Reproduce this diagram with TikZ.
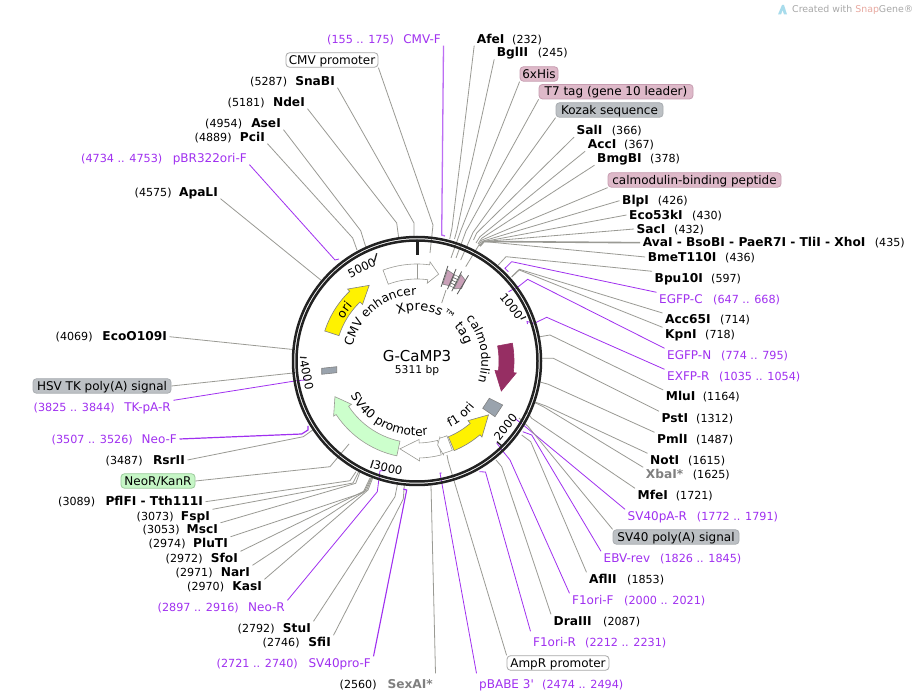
\documentclass[tikz,border=0pt]{standalone}
\usepackage{fontspec}
\setmainfont{DejaVu Sans}[Ligatures=TeXOff]
\usetikzlibrary{decorations.text}
\definecolor{primerc}{HTML}{A030F0}
\definecolor{sitec}{HTML}{9A9A94}
\definecolor{ghost}{HTML}{808080}
\definecolor{ringc}{HTML}{222222}
\definecolor{calm}{HTML}{962E63}
\definecolor{svgreen}{HTML}{CCFFCC}
\definecolor{boxgray}{HTML}{9AA3AD}
\definecolor{logoc}{HTML}{A8DCEC}
\definecolor{credit}{HTML}{A8A8A8}
\definecolor{snapc}{HTML}{E8A9A0}
\definecolor{tagpink}{HTML}{C9A0B8}
\tikzset{
  lbl/.style={inner xsep=2.5pt,inner ysep=1pt,text height=9.7pt,text depth=1.3pt},
  sname/.style={lbl,font=\fontsize{12.2}{13}\selectfont\bfseries},
  spos/.style={lbl,font=\fontsize{11.1}{13}\selectfont},
  pname/.style={lbl,text=primerc,font=\fontsize{12}{13}\selectfont},
  ppos/.style={lbl,text=primerc,font=\fontsize{11.2}{13}\selectfont},
  fbox/.style={rounded corners=3.5pt,line width=.8pt,inner sep=0pt,minimum height=14.5pt,font=\fontsize{12}{13}\selectfont,text height=9.7pt,text depth=1.3pt},
  pinkb/.style={fbox,fill=pinkf,draw=pinkd},
  grayb/.style={fbox,fill=grayf,draw=grayd},
  whiteb/.style={fbox,fill=white,draw=whited},
  greenb/.style={fbox,fill=greenf,draw=greend},
  site/.style={draw=sitec,line width=.8pt},
  primer/.style={draw=primerc,line width=.8pt},
  tickm/.style={draw=ringc,line width=1.3pt},
  numl/.style={font=\fontsize{11.5}{13}\selectfont,inner sep=0pt},
  arc text/.style={decorate,decoration={text along path,text align=center,text={|\fontsize{12.2}{13}\selectfont|#1}}},
  arc text big/.style={decorate,decoration={text along path,text align=center,text={|\fontsize{13}{14}\selectfont|#1}}},
  fedge/.style={draw=#1,line width=.6pt}
}
\definecolor{pinkf}{HTML}{DEB9C9}\definecolor{pinkd}{HTML}{C79DB1}
\definecolor{grayf}{HTML}{BCC0C4}\definecolor{grayd}{HTML}{A8ACB0}
\definecolor{whited}{HTML}{A8A8A8}
\definecolor{greenf}{HTML}{C6F6C6}\definecolor{greend}{HTML}{9CCB9C}
% right-hand labels: id, name, pos, nameX, posX, y, optional colour
\newcommand\rsite[7][black]{\node[sname,anchor=west,text=#1] (#2) at ({#5-2.5},#7) {#3};\node[spos,anchor=west] (#2-pos) at ({#6-2.5},#7) {(#4)};}
\newcommand\lsite[7][black]{\node[sname,anchor=east,text=#1] (#2) at ({#5+2.5},#7) {#3};\node[spos,anchor=west] (#2-pos) at ({#6-2.5},#7) {(#4)};}
\newcommand\rprim[6]{\node[pname,anchor=west] (#1) at ({#4-2.5},#6) {#2};\node[ppos,anchor=west] (#1-pos) at ({#5-2.5},#6) {(#3)};}
\newcommand\lprim[6]{\node[pname,anchor=east] (#1) at ({#4+2.5},#6) {#2};\node[ppos,anchor=west] (#1-pos) at ({#5-2.5},#6) {(#3)};}
\newcommand\feat[6]{\node[#2,minimum width={(#4-(#3))*1pt}] (#1) at ({(#3+#4)/2},#5) {#6};}
% connector: id, style, start and elbows, free end
\newcommand\conn[4]{\coordinate (#1-end) at #4;\draw[#2] #3 -- (#1-end);}
% polar helper: clockwise angle from top, radius
\newcommand\Pol[2]{({417+(#2)*sin(#1)},{361-(#2)*cos(#1)})}
% feature arrow: fill, edge, tail, head base, tip
\newcommand\farrow[5]{\draw[fill=#1,fedge=#2] plot[domain=#3:#4,samples=16] ({417+97*sin(\x)},{361-97*cos(\x)}) -- \Pol{#4}{100} -- \Pol{#5}{89.5} -- \Pol{#4}{78.5} -- plot[domain=#4:#3,samples=16] ({417+82*sin(\x)},{361-82*cos(\x)}) -- cycle;}
\begin{document}
\begin{tikzpicture}[x=1pt,y=-1pt]
\useasboundingbox (0,0) rectangle (919,700);
\fill[white] (0,0) rectangle (919,700);

% ---------- labels, right side
\rsite{afe}{AfeI}{232}{476.7}{512}{39}
\rsite{bgl}{BglII}{245}{496.7}{537.7}{52.7}
\feat{his}{pinkb}{520}{558}{74}{6xHis}
\feat{tseven}{pinkb}{539}{693}{91.7}{T7 tag (gene 10 leader)}
\feat{kozak}{grayb}{556}{663}{110}{Kozak sequence}
\rsite{sal}{SalI}{366}{576.5}{611.7}{130.5}
\rsite{acc}{AccI}{367}{587.7}{624}{144.5}
\rsite{bmg}{BmgBI}{378}{597}{650}{158.5}
\feat{cbp}{pinkb}{608}{781}{180}{calmodulin-binding peptide}
\rsite{blp}{BlpI}{426}{622}{657.7}{200.7}
\rsite{eco}{Eco53kI}{430}{629}{692}{215}
\rsite{sac}{SacI}{432}{636.5}{674}{229}
\rsite{ava}{AvaI - BsoBI - PaeR7I - TliI - XhoI}{435}{642.7}{874.7}{242.7}
\rsite{bme}{BmeT110I}{436}{647.7}{725}{257}
\rsite{bpu}{Bpu10I}{597}{654.5}{711}{278}
\rprim{egfpc}{EGFP-C}{647 .. 668}{659}{713}{299}
\rsite{acc65}{Acc65I}{714}{665}{720}{319.7}
\rsite{kpn}{KpnI}{718}{665}{705}{334}
\rprim{egfpn}{EGFP-N}{774 .. 795}{667}{721}{355}
\rprim{exfpr}{EXFP-R}{1035 .. 1054}{667}{719}{376}
\rsite{mlu}{MluI}{1164}{665.7}{702.7}{396.7}
\rsite{pst}{PstI}{1312}{661.5}{696}{418}
\rsite{pml}{PmlI}{1487}{657}{696}{439}
\rsite{not}{NotI}{1615}{650}{688}{460}
\rsite[ghost]{xba}{XbaI*}{1625}{645.7}{692.7}{474}
\rsite{mfe}{MfeI}{1721}{637.5}{675.7}{495}
\rprim{svpa}{SV40pA-R}{1772 .. 1791}{627.5}{696.7}{516}
\feat{svpoly}{grayb}{613}{739}{537}{SV40 poly(A) signal}
\rprim{ebv}{EBV-rev}{1826 .. 1845}{603.5}{660}{558}
\rsite{afl}{AflII}{1853}{589}{627}{579}
\rprim{fonef}{F1ori-F}{2000 .. 2021}{572}{624}{600}
\rsite{dra}{DraIII}{2087}{553.5}{603}{621}
\rprim{foner}{F1ori-R}{2212 .. 2231}{533}{585}{642}
\feat{amp}{whiteb}{507}{609}{663}{AmpR promoter}
\rprim{babe}{pBABE 3'}{2474 .. 2494}{479}{542}{684}

% ---------- labels, left side
\lprim{cmvf}{CMV-F}{155 .. 175}{441}{327}{39}
\feat{cmvp}{whiteb}{286}{378}{60}{CMV promoter}
\lsite{sna}{SnaBI}{5287}{335}{250}{81}
\lsite{nde}{NdeI}{5181}{305}{227.5}{102}
\lsite{ase}{AseI}{4954}{281}{205}{123}
\lsite{pci}{PciI}{4889}{265}{194.5}{137}
\lprim{pbr}{pBR322ori-F}{4734 .. 4753}{247}{81}{158}
\lsite{apa}{ApaLI}{4575}{218}{134.5}{192}
\lsite{ecoo}{EcoO109I}{4069}{167}{55.5}{336.7}
\feat{hsv}{grayb}{33}{171}{386}{HSV TK poly(A) signal}
\lprim{tkpa}{TK-pA-R}{3825 .. 3844}{171}{33.5}{407}
\lprim{neof}{Neo-F}{3507 .. 3526}{177}{51.5}{439}
\lsite{rsr}{RsrII}{3487}{185}{105.5}{460}
\feat{neo}{greenb}{121}{195}{481}{NeoR/KanR}
\lsite{pfl}{PflFI - Tth111I}{3089}{203}{58}{501.7}
\lsite{fsp}{FspI}{3073}{210}{136.5}{516}
\lsite{msc}{MscI}{3053}{218}{142.5}{529.5}
\lsite{plu}{PluTI}{2974}{228}{148.5}{543.5}
\lsite{sfo}{SfoI}{2972}{238}{165.5}{558}
\lsite{nar}{NarI}{2971}{250}{175.5}{572}
\lsite{kas}{KasI}{2970}{262}{187}{586}
\lprim{neor}{Neo-R}{2897 .. 2916}{285}{157.5}{607}
\lsite{stu}{StuI}{2792}{311}{237.5}{628}
\lsite{sfi}{SfiI}{2746}{331}{262.5}{642}
\lprim{svpro}{SV40pro-F}{2721 .. 2740}{371}{216.5}{663}
\lsite[ghost]{sex}{SexAI*}{2560}{433}{339.5}{684}

% ---------- connectors, right side
\conn{afe}{site}{(afe.south west) -- (452,228)}{(449.7,239)}
\conn{bgl}{site}{(bgl.south west) -- (457,230)}{(454.5,239)}
\conn{his}{site}{(his.south west) -- (461,230)}{(451,258)}
\conn{tseven}{site}{(tseven.south west) -- (466,231)}{(456,258)}
\conn{kozak}{site}{(kozak.south west) -- (473,232.5)}{(460.7,260)}
\conn{sal}{site}{(sal.south west) -- (476.7,233)}{(473.5,240)}
\conn{acc}{site}{(acc.south west) -- (480,236.7)}{(476,243)}
\conn{bmg}{site}{(bmg.south west) -- (481.7,238.3)}{(478,244)}
\conn{cbp}{site}{(cbp.south west) -- (482,240)}{(465.7,266.7)}
\conn{blp}{site}{(blp.west) -- (483,241)}{(479.5,246)}
\conn{eco}{site}{(eco.west) -- (484,241.5)}{(480,246)}
\conn{sac}{site}{(sac.west) -- (484,241.5)}{(480,246)}
\conn{ava}{site,line width=1.6pt}{(ava.west) -- (484,241.5)}{(480,246)}
\conn{bme}{site}{(bme.west) -- (484,241.5)}{(480,246)}
\conn{bpu}{site}{(bpu.north west) -- (506,256.7)}{(498.3,265)}
\conn{egfpc}{primer}{(egfpc.north west) -- (511.7,261.7) -- (505,268.3)}{(508.3,271.7)}
\conn{acc65}{site}{(acc65.north west) -- (519.3,269.3)}{(511.7,276.7)}
\conn{kpn}{site}{(kpn.north west) -- (519.3,270)}{(511.7,277)}
\conn{egfpn}{primer}{(egfpn.north west) -- (527.7,279.3) -- (518.3,286.7)}{(508.5,291.7)}
\conn{exfpr}{primer}{(exfpr.north west) -- (546.7,317.3) -- (534.3,323.3) -- (527,321.5)}{(527.5,324)}
\conn{mlu}{site}{(mlu.north west) -- (550,335)}{(540,336.7)}
\conn{pst}{site}{(pst.north west) -- (553.3,358.3)}{(541.7,358.3)}
\conn{pml}{site}{(pml.north west) -- (548.3,384.3)}{(540,382)}
\conn{not}{site}{(not.north west) -- (546,406)}{(535,402)}
\conn{xba}{site}{(xba.north west) -- (543.3,406.7)}{(535,402.7)}
\conn{mfe}{site}{(mfe.north west) -- (531.7,418.3)}{(527,412)}
\conn{svpa}{primer}{(svpa.north west) -- (523.3,425)}{(516,419.3)}
\conn{svpoly}{site}{(svpoly.north west) -- (528.3,426.7)}{(519,418)}
\conn{ebv}{primer}{(ebv.north west) -- (531.7,435)}{(522.7,431.7)}
\conn{afl}{site}{(afl.north west) -- (530.7,441.7)}{(521.7,435)}
\conn{fonef}{primer}{(fonef.north west) -- (510,460) -- (503.3,451.7)}{(496.7,443)}
\conn{dra}{site}{(dra.north west) -- (501.7,466.7)}{(496,460)}
\conn{foner}{primer}{([yshift=4pt]foner.north west) -- (485.5,472)}{(479.3,471.7)}
\conn{amp}{site}{(amp.north west) -- (448.3,461.7)}{(447,455)}
\conn{babe}{primer}{([yshift=4pt]babe.north west) -- (440,473)}{(441.7,473)}

% ---------- connectors, left side
\conn{cmvf}{primer,line width=1.3pt,draw=primerc!70}{(cmvf.south east) -- (441.7,235)}{(445,236)}
\conn{cmvp}{site}{(cmvp.south east) -- (433,225)}{(430,253)}
\conn{sna}{site}{(sna.south east) -- (414,223)}{(414,238)}
\conn{nde}{site}{(nde.south east) -- (396.7,223)}{(398.7,238)}
\conn{ase}{site}{(ase.south east) -- (360.7,230.7)}{(365.7,246.7)}
\conn{pci}{site}{(pci.south east) -- (352.7,238)}{(357,250)}
\conn{pbr}{primer}{(pbr.south east) -- (335,260)}{(339,259)}
\conn{apa}{site}{(apa.south east)}{(322,281)}
\conn{ecoo}{site}{(ecoo.east)}{(293,349.5)}
\conn{hsv}{site}{(hsv.east)}{(296,372.7)}
\conn{tkpa}{primer}{(tkpa.north east) -- (296.7,380.7) -- (305,380)}{(305,378)}
\conn{neof}{primer,line width=1.2pt}{(neof.east) -- (301.7,434) -- (308,430)}{(308,426)}
\conn{rsr}{site}{(rsr.east) -- (303.3,436.7)}{(312.7,430)}
\conn{neo}{site}{(neo.east) -- (330,466.7)}{(349,444)}
\conn{pfl}{site}{(pfl.east) -- (350,480.7)}{(356,471.7)}
\conn{fsp}{site}{(fsp.north east) -- (353,483)}{(358.7,471.7)}
\conn{msc}{site}{(msc.north east) -- (355.7,483.3)}{(360,472)}
\conn{plu}{site}{(plu.north east) -- (363,492.7)}{(370,478)}
\conn{sfo}{site}{(sfo.north east) -- (365,490.7)}{(371,478)}
\conn{nar}{site}{(nar.north east) -- (366.7,490)}{(371.7,478)}
\conn{kas}{site}{(kas.north east) -- (368,490)}{(372.7,478)}
\conn{neor}{primer}{(neor.north east) -- (377.3,491.7) -- (380,470.7)}{(385,470.7)}
\conn{stu}{site}{(stu.north east) -- (395,496.7)}{(397.3,485)}
\conn{sfi}{site}{(sfi.north east) -- (403.3,499)}{(404.3,485)}
\conn{svpro}{primer,line width=1.1pt}{(svpro.north east) -- (406.7,490)}{(403.3,489)}
\conn{sex}{site}{([yshift=4pt]sex.north east)}{(431,485)}

% ---------- features
\farrow{white}{sitec}{-20.5}{7.5}{14}
\draw[fedge=sitec] \Pol{0}{97} -- \Pol{0}{82};
\farrow{yellow}{gray}{-72}{-44}{-32.3}
\farrow{white}{sitec}{165.5}{178.5}{191}
\draw[fill=white,fedge=sitec] plot[domain=158.4:163.8,samples=5] ({417+96*sin(\x)},{361-96*cos(\x)}) -- \Pol{164.3}{97.5} -- \Pol{166.2}{86.5} -- \Pol{163.3}{79.5} -- plot[domain=163.3:158.2,samples=5] ({417+80.5*sin(\x)},{361-80.5*cos(\x)}) -- cycle;
\farrow{yellow}{gray}{157.5}{139.5}{127}
\farrow{calm}{calm}{79.4}{96.9}{109.6}
\farrow{svgreen}{sitec}{192}{236.5}{246.5}
\draw[fill=boxgray,fedge=gray] (482.7,408.3) -- (489.3,398.3) -- (502.7,405) -- (495,416.7) -- cycle;
\draw[fill=boxgray,fedge=gray] (321.7,368.3) -- (336.7,366.7) -- (336.7,372.7) -- (321.7,374.3) -- cycle;
% Xpress / T7 / 6xHis / Kozak group
\draw[fill=tagpink,fedge=gray] \Pol{18.5}{96} -- \Pol{23.5}{94} -- \Pol{23.5}{82} -- \Pol{18.5}{81} -- cycle;
\draw[fill=tagpink,fedge=gray] \Pol{27}{97} -- \Pol{31}{94} -- \Pol{31.5}{85} -- \Pol{27}{81} -- cycle;
\draw[fill=white,fedge=gray] \Pol{23.5}{94} -- \Pol{27}{94} -- \Pol{27}{82} -- \Pol{23.5}{82} -- cycle;
\foreach \q in {85,88,91}{\draw[line width=.7pt,draw=black!60] \Pol{23.5}{\q} -- \Pol{27}{\q};}
\foreach \q in {18,23,26.5,31}{\draw[line width=.8pt,draw=black!65] \Pol{\q}{100} -- \Pol{\q}{78};}
\conn{xpress}{site}{(446,290)}{(441.7,303)}

% ---------- ring and ticks
\draw[ringc,line width=2.5pt] (417,361) circle[radius=124];
\draw[ringc,line width=2.5pt] (417,361) circle[radius=120.5];
\draw[ringc,line width=3pt] (417,241.7) -- (417,255);
\draw[tickm] (376.7,253.3) -- (374.3,261.7);
\draw[tickm] (526,316.7) -- (520.7,319);
\draw[tickm] (497,441.7) -- (502,446);
\draw[tickm] (373.3,460) -- (370.7,468);
\draw[tickm] (300,357.3) -- (306.5,357.8);
\node[numl,rotate=26] (t5000) at (361.7,268) {5000};
\node[numl,rotate=-52] (t1000) at (511.5,306) {1000};
\node[numl,rotate=51] (t2000) at (505.5,427) {2000};
\node[numl,rotate=-13] (t3000) at (388,468) {3000};
\node[numl,rotate=-78] (t4000) at (306.7,375) {4000};

% ---------- curved feature names
\path[arc text={CMV enhancer}] plot[domain=-80:2,samples=50] ({417+66*sin(\x)},{361-66*cos(\x)});
\path[arc text big={Xpress™ tag}] plot[domain=-25:74,samples=50] ({417+50.5*sin(\x)},{361-50.5*cos(\x)});
\path[arc text={calmodulin}] plot[domain=49:109,samples=50] ({417+64.5*sin(\x)},{361-64.5*cos(\x)});
\path[arc text={SV40 promoter}] plot[domain=250:164,samples=50] ({417+75*sin(\x)},{361-75*cos(\x)});
\path[arc text={f1 ori}] plot[domain=160:122,samples=50] ({417+74*sin(\x)},{361-74*cos(\x)});
\path[arc text={ori}] plot[domain=-66:-44,samples=30] ({417+84.5*sin(\x)},{361-84.5*cos(\x)});

% ---------- centre
\node[font=\fontsize{15}{17}\selectfont,inner sep=0pt] (title) at (417,356) {G-CaMP3};
\node[font=\fontsize{10.7}{13}\selectfont,inner sep=0pt] (size) at (417,371) {5311 bp};

% ---------- credit
\fill[fill=logoc] (778,14.5) -- (782,5) -- (784,5) -- (787,14.5) -- (784,14.5) -- (782.5,10) -- (781,14.5) -- cycle;
\node[anchor=west,inner sep=0pt,font=\fontsize{9.4}{11}\selectfont,text=credit] (credit) at (792,10) {Created with \textcolor{snapc}{Snap}Gene®};
\end{tikzpicture}
\end{document}
